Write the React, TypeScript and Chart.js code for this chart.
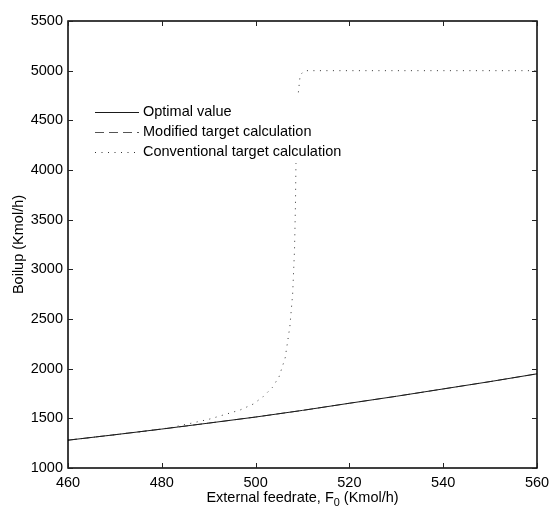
import React, { useEffect, useRef } from "react";
import { Chart, registerables } from "chart.js";

Chart.register(...registerables);

const feedX = [460, 470, 480, 490, 500, 510, 520, 530, 540, 550, 560];
const optimalY = [1280, 1335, 1392, 1452, 1513, 1580, 1652, 1722, 1796, 1870, 1948];
const modifiedY = [1280, 1335, 1392, 1452, 1513, 1580, 1652, 1722, 1796, 1870, 1948];

const convX = [460, 470, 478, 482, 486, 490, 493, 496.7, 499.5, 501.6, 503.6, 505, 506.3, 507.3, 507.9, 508.3, 508.5, 508.6, 508.8, 509.1, 509.5, 510.4, 560];
const convY = [1280, 1335, 1380, 1407, 1448, 1490, 1532, 1584, 1644, 1718, 1812, 1919, 2107, 2422, 2752, 3200, 3657, 4050, 4400, 4772, 4955, 5000, 5000];

const xTicks = [460, 480, 500, 520, 540, 560];
const yTicks = [1000, 1500, 2000, 2500, 3000, 3500, 4000, 4500, 5000, 5500];

const legendLabels = ["Optimal value", "Modified target calculation", "Conventional target calculation"];
const xTitleMain = "External feedrate, F";
const xTitleSub = "0";
const xTitleTail = " (Kmol/h)";
const yTitle = "Boilup (Kmol/h)";

const FONT = "'Liberation Sans', Arial, Helvetica, sans-serif";
const FS = 14.5;

const styles = [
  { color: "#1a1a1a", dash: [] as number[], width: 1 },
  { color: "#555555", dash: [9, 5], width: 1 },
  { color: "#333333", dash: [1, 5.5], width: 1 },
];

const framePlugin = {
  id: "frame",
  afterDatasetsDraw(chart: any) {
    const { ctx, chartArea, scales } = chart;
    const { left, right, top, bottom } = chartArea;
    const xs = scales.x;
    const ys = scales.y;
    ctx.save();

    // legend (white box, no border)
    ctx.fillStyle = "#ffffff";
    ctx.fillRect(88, 97, 258, 66);
    const rowY = [112, 132, 152];
    legendLabels.forEach((label, i) => {
      const s = styles[i];
      ctx.beginPath();
      ctx.strokeStyle = s.color;
      ctx.lineWidth = s.width;
      ctx.setLineDash(s.dash);
      ctx.moveTo(95, rowY[i] + 0.5);
      ctx.lineTo(139, rowY[i] + 0.5);
      ctx.stroke();
      ctx.setLineDash([]);
      ctx.fillStyle = "#000";
      ctx.font = `${FS}px ${FONT}`;
      ctx.textAlign = "left";
      ctx.textBaseline = "middle";
      ctx.fillText(label, 143, rowY[i]);
    });

    // frame
    ctx.setLineDash([]);
    ctx.strokeStyle = "#000";
    ctx.lineWidth = 1.5;
    ctx.strokeRect(left, top, right - left, bottom - top);

    // inward ticks on all sides
    ctx.lineWidth = 1;
    ctx.strokeStyle = "#222";
    const tl = 5;
    xTicks.forEach((v) => {
      const px = Math.round(xs.getPixelForValue(v)) + 0.5;
      ctx.beginPath();
      ctx.moveTo(px, bottom);
      ctx.lineTo(px, bottom - tl);
      ctx.moveTo(px, top);
      ctx.lineTo(px, top + tl);
      ctx.stroke();
    });
    yTicks.forEach((v) => {
      const py = Math.round(ys.getPixelForValue(v)) + 0.5;
      ctx.beginPath();
      ctx.moveTo(left, py);
      ctx.lineTo(left + tl, py);
      ctx.moveTo(right, py);
      ctx.lineTo(right - tl, py);
      ctx.stroke();
    });

    // x title with subscript
    ctx.fillStyle = "#000";
    ctx.textBaseline = "alphabetic";
    ctx.textAlign = "left";
    ctx.font = `${FS}px ${FONT}`;
    const w1 = ctx.measureText(xTitleMain).width;
    const w3 = ctx.measureText(xTitleTail).width;
    ctx.font = `${FS * 0.75}px ${FONT}`;
    const w2 = ctx.measureText(xTitleSub).width;
    const total = w1 + w2 + w3;
    const cx = (left + right) / 2;
    const bx = cx - total / 2;
    const by = 502;
    ctx.font = `${FS}px ${FONT}`;
    ctx.fillText(xTitleMain, bx, by);
    ctx.font = `${FS * 0.75}px ${FONT}`;
    ctx.fillText(xTitleSub, bx + w1, by + 4);
    ctx.font = `${FS}px ${FONT}`;
    ctx.fillText(xTitleTail, bx + w1 + w2, by);

    // y title
    ctx.save();
    ctx.translate(19, (top + bottom) / 2);
    ctx.rotate(-Math.PI / 2);
    ctx.textAlign = "center";
    ctx.textBaseline = "middle";
    ctx.fillText(yTitle, 0, 0);
    ctx.restore();

    ctx.restore();
  },
};

export default function App() {
  const ref = useRef<HTMLCanvasElement | null>(null);
  useEffect(() => {
    document.body.style.margin = "0";
    const canvas = ref.current;
    if (!canvas) return;
    const mk = (xsArr: number[], ysArr: number[]) => xsArr.map((x, i) => ({ x, y: ysArr[i] }));
    const chart = new Chart(canvas, {
      type: "line",
      data: {
        datasets: [
          {
            label: legendLabels[0],
            data: mk(feedX, optimalY),
            borderColor: styles[0].color,
            borderWidth: styles[0].width,
            pointRadius: 0,
            tension: 0,
          },
          {
            label: legendLabels[1],
            data: mk(feedX, modifiedY),
            borderColor: styles[1].color,
            borderWidth: styles[1].width,
            borderDash: styles[1].dash,
            pointRadius: 0,
            tension: 0,
          },
          {
            label: legendLabels[2],
            data: mk(convX, convY),
            borderColor: styles[2].color,
            borderWidth: styles[2].width,
            borderDash: styles[2].dash,
            pointRadius: 0,
            tension: 0,
          },
        ],
      },
      options: {
        responsive: false,
        animation: false,
        layout: { padding: { top: 21, right: 13, left: 0, bottom: 0 } },
        plugins: { legend: { display: false }, tooltip: { enabled: false } },
        scales: {
          x: {
            type: "linear",
            min: 460,
            max: 560,
            afterBuildTicks: (s: any) => {
              s.ticks = xTicks.map((v) => ({ value: v }));
            },
            afterFit: (s: any) => {
              s.height = 39;
              s.paddingLeft = 0;
              s.paddingRight = 0;
            },
            grid: { display: false, drawTicks: false },
            border: { display: false },
            ticks: {
              autoSkip: false,
              maxRotation: 0,
              padding: 6,
              color: "#000",
              font: { family: FONT, size: FS },
              callback: (v: any) => String(v),
            },
          },
          y: {
            type: "linear",
            min: 1000,
            max: 5500,
            afterBuildTicks: (s: any) => {
              s.ticks = yTicks.map((v) => ({ value: v }));
            },
            afterFit: (s: any) => {
              s.width = 68;
              s.paddingTop = 0;
              s.paddingBottom = 0;
            },
            grid: { display: false, drawTicks: false },
            border: { display: false },
            ticks: {
              autoSkip: false,
              padding: 5,
              color: "#000",
              font: { family: FONT, size: FS },
              callback: (v: any) => String(v),
            },
          },
        },
      },
      plugins: [framePlugin],
    } as any);
    return () => chart.destroy();
  }, []);
  return (
    <div style={{ position: "absolute", left: 0, top: 0, width: 550, height: 507, background: "#fff" }}>
      <canvas ref={ref} width={550} height={507} />
    </div>
  );
}
